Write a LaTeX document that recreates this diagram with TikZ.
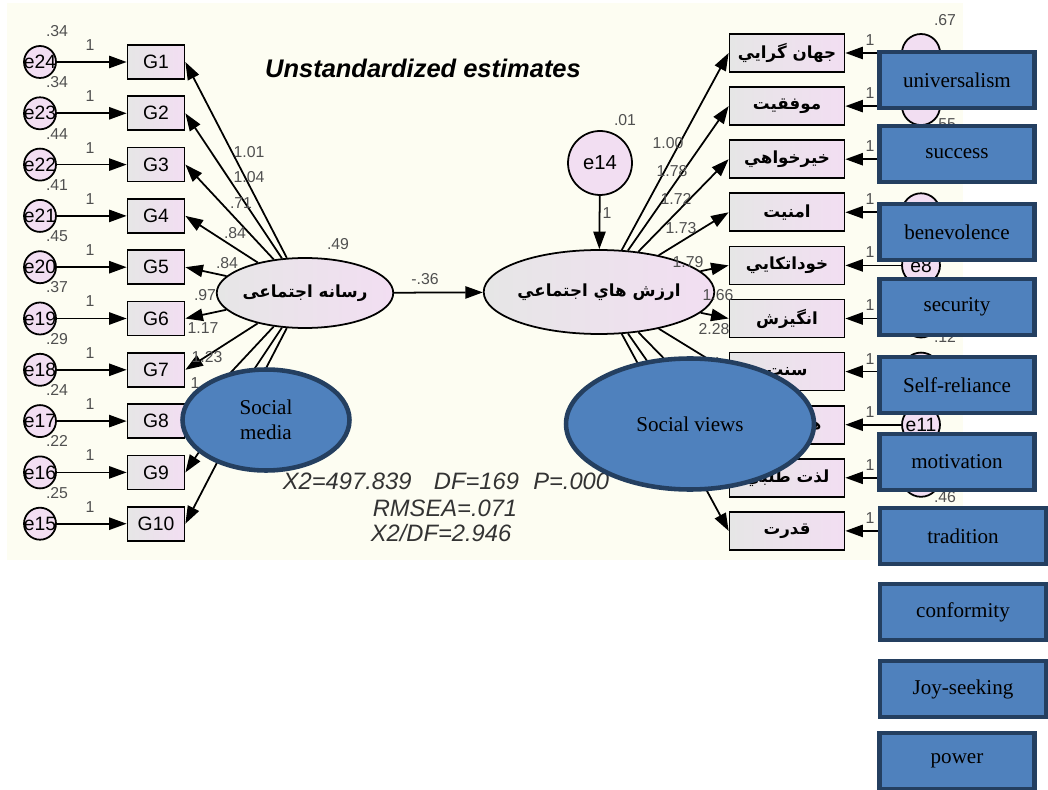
\documentclass[tikz,border=0pt]{standalone}
\usepackage{fontspec}
\setmainfont{Liberation Serif}
\newfontfamily\amosfont{Liberation Sans}
\newfontfamily\arabicfont[Script=Arabic]{DejaVu Sans}
\TeXXeTstate=1
\usetikzlibrary{arrows.meta,shapes.geometric}

\definecolor{amosbg}{RGB}{253,253,242}
\definecolor{amospink}{RGB}{242,222,242}
\definecolor{amosgrey}{RGB}{230,230,230}
\definecolor{numgrey}{RGB}{80,80,80}
\definecolor{overblue}{RGB}{79,129,189}
\definecolor{overedge}{RGB}{36,63,96}

\tikzset{
  obsbox/.style={draw=black, line width=1pt, left color=amosgrey, right color=amospink,
    minimum width=1.14cm, minimum height=0.68cm, inner sep=0pt,
    font=\amosfont\fontsize{11}{12}\selectfont},
  valbox/.style={obsbox, minimum width=2.3cm, minimum height=0.76cm,
    font=\arabicfont\bfseries\fontsize{9.5}{11}\selectfont},
  errcirc/.style={circle, draw=black, line width=1pt, fill=amospink, inner sep=0pt, minimum size=0.64cm},
  errname/.style={font=\amosfont\fontsize{11}{12}\selectfont, inner sep=0pt},
  latent/.style={ellipse, draw=black, line width=1pt, left color=amosgrey, right color=amospink, inner sep=0pt},
  path/.style={-{Triangle[length=10pt,width=7pt]}, line width=1pt},
  estim/.style={font=\amosfont\fontsize{9}{10}\selectfont, text=numgrey, inner sep=0pt},
  fitline/.style={font=\amosfont\itshape\fontsize{13.5}{15}\selectfont, text=black!80, inner sep=0pt},
  overbox/.style={draw=overedge, line width=2.6pt, fill=overblue,
    minimum height=1.12cm, font=\fontsize{12}{14.5}\selectfont},
  overell/.style={ellipse, draw=overedge, line width=2.6pt, fill=overblue, inner sep=0pt,
    align=center, font=\fontsize{12}{14.5}\selectfont}
}

\begin{document}
\begin{tikzpicture}[x=0.02cm,y=-0.02cm]
  %%%%% START %%%%%
  \useasboundingbox[fill=white] (0,0) rectangle (1048,790);
  \fill[amosbg] (7,3) rectangle (963,560);

  \node[font=\amosfont\bfseries\itshape\fontsize{14.5}{16}\selectfont] (title) at (423,68) {Unstandardized estimates};

  % social media side
  \node[latent, minimum width=2.28cm, minimum height=1.4cm] (media) at (305,293)
    {\arabicfont\bfseries\fontsize{9.5}{11}\selectfont\beginR رسانه  اجتماعی\endR};
  \node[estim] at (338,244) {.49};

  \foreach \i/\e/\v in {1/24/.34, 2/23/.34, 3/22/.44, 4/21/.41, 5/20/.45,
                        6/19/.37, 7/18/.29, 8/17/.24, 9/16/.22, 10/15/.25} {
    \pgfmathsetmacro\yy{62+51.3*(\i-1)}
    \node[obsbox] (G\i) at (156,\yy) {G\i};
    \node[errcirc] (e\e) at (40,\yy) {};
    \node[errname] at (e\e) {e\e};
    \draw[path] (e\e) -- (G\i);
    \draw[path] (media) -- (G\i.east);
    \node[estim] at (57,{\yy-31}) {\v};
    \node[estim] at (90,{\yy-17}) {1};
  }

  \foreach \v/\x/\y in {1.01/249/152, 1.04/249/177, .71/241/203, .84/235/233, .84/227/263,
                        .97/205/295, 1.17/203/328, 1.23/207/357, 1/195/383}
    \node[estim] at (\x,\y) {\v};

  % social values side
  \node[latent, minimum width=3.24cm, minimum height=1.68cm] (views) at (599,292)
    {\arabicfont\bfseries\fontsize{9.5}{11}\selectfont\beginR ارزش هاي اجتماعي\endR};
  \node[errcirc, minimum size=1.28cm] (e14) at (600,163) {};
  \node[errname, font=\amosfont\fontsize{11.5}{12}\selectfont] at (e14) {e14};
  \node[estim] at (625,120) {.01};
  \draw[path] (e14) -- (views);
  \node[estim] at (607,213) {1};

  \draw[path] (media) -- (views);
  \node[estim] at (425,279) {-.36};

  \foreach \i/\t in {1/جهان گرايي, 2/موفقيت, 3/خيرخواهي, 4/امنيت, 5/خوداتكايي,
                     6/انگيزش, 7/سنت, 8/همنوايي, 9/لذت طلبي, 10/قدرت} {
    \pgfmathsetmacro\yy{53+53.1*(\i-1)}
    \pgfmathtruncatemacro\n{\i+3}
    \node[valbox] (V\i) at (787,\yy) {\beginR\t\endR};
    \node[errcirc, minimum size=0.76cm] (e\n) at (921,\yy) {};
    \draw[path] (e\n) -- (V\i);
    \draw[path] (views) -- (V\i.west);
    \node[estim] at (870,{\yy-13}) {1};
  }
  \node[errname] at (e8) {e8};
  \node[errname] at (e11) {e11};

  \foreach \v/\y in {.67/20, .55/124, .12/337, .46/497}
    \node[estim] at (945,\y) {\v};

  \foreach \v/\x/\y in {1.00/668/143, 1.78/672/171, 1.72/676/199, 1.73/681/228,
                        1.79/688/262, 1.66/718/295, 2.28/714/329}
    \node[estim] at (\x,\y) {\v};

  % fit statistics
  \node[fitline] (fit1) at (446,481) {X2=497.839\hspace{0.95em}DF=169\hspace{0.6em}P=.000};
  \node[fitline] (fit2) at (445,508) {RMSEA=.071};
  \node[fitline] (fit3) at (441,533) {X2/DF=2.946};

  % english overlay
  \node[overell, minimum width=3.34cm, minimum height=2.02cm] (smedia) at (266,420) {Social\\media};
  \node[overell, minimum width=4.96cm, minimum height=2.62cm] (sviews) at (690,424) {Social views};

  \foreach \i/\x/\y/\w/\t in {1/957/80/3.1/universalism, 2/957/154/3.1/success,
                              3/957/232/3.1/benevolence, 4/957/307/3.1/security,
                              5/957/385/3.1/Self-reliance, 6/957/462/3.1/motivation,
                              7/963/536/3.32/tradition, 8/963/612/3.32/conformity,
                              9/963/689/3.32/Joy-seeking, 10/957/761/3.1/power}
    \node[overbox, minimum width=\w cm] (ov\i) at (\x,\y) {\t};
  %%%%% END %%%%%
\end{tikzpicture}
\end{document}
